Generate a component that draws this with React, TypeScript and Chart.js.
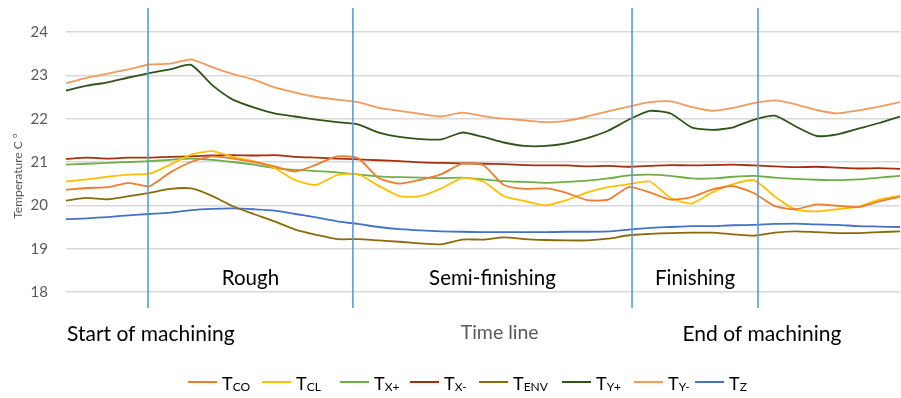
import React, { useEffect, useRef } from "react";
import { Chart, registerables } from "chart.js";

Chart.register(...registerables);

// Time line (relative %, 0 = start of machining, 100 = end of recording)
const time = [
  0, 2.5, 5, 7.5, 10, 12.5, 15, 17.5, 20, 22.5, 25, 27.5, 30, 32.5, 35, 37.5, 40, 42.5, 45, 47.5,
  50, 52.5, 55, 57.5, 60, 62.5, 65, 67.5, 70, 72.5, 75, 77.5, 80, 82.5, 85, 87.5, 90, 92.5, 95, 97.5, 100,
];

const tCO = [
  20.36, 20.4, 20.42, 20.52, 20.44, 20.76, 21.0, 21.13, 21.08, 21.0,
  20.9, 20.78, 20.94, 21.13, 21.09, 20.63, 20.5, 20.59, 20.72, 20.96,
  20.93, 20.47, 20.38, 20.39, 20.29, 20.12, 20.13, 20.42, 20.3, 20.13,
  20.19, 20.37, 20.44, 20.28, 19.98, 19.91, 20.02, 19.99, 19.96, 20.09, 20.2,
];
const tCL = [
  20.55, 20.6, 20.66, 20.71, 20.73, 20.94, 21.17, 21.25, 21.12, 21.02,
  20.86, 20.58, 20.47, 20.7, 20.72, 20.45, 20.21, 20.21, 20.39, 20.63,
  20.55, 20.21, 20.1, 20.0, 20.12, 20.3, 20.42, 20.49, 20.55, 20.17,
  20.04, 20.3, 20.49, 20.58, 20.2, 19.9, 19.86, 19.91, 19.97, 20.13, 20.22,
];
const tXplus = [
  20.94, 20.96, 20.98, 21.0, 21.02, 21.05, 21.08, 21.05, 21.0, 20.94,
  20.86, 20.82, 20.79, 20.76, 20.71, 20.67, 20.65, 20.64, 20.63, 20.64,
  20.6, 20.56, 20.54, 20.52, 20.54, 20.57, 20.62, 20.69, 20.71, 20.68,
  20.62, 20.62, 20.66, 20.68, 20.64, 20.61, 20.59, 20.58, 20.6, 20.64, 20.68,
];
const tXminus = [
  21.07, 21.1, 21.08, 21.1, 21.1, 21.12, 21.13, 21.15, 21.16, 21.15,
  21.16, 21.12, 21.1, 21.08, 21.06, 21.04, 21.02, 20.99, 20.98, 20.97,
  20.96, 20.95, 20.93, 20.92, 20.92, 20.9, 20.91, 20.89, 20.91, 20.93,
  20.92, 20.93, 20.94, 20.92, 20.9, 20.88, 20.89, 20.87, 20.85, 20.86, 20.84,
];
const tENV = [
  20.11, 20.17, 20.14, 20.21, 20.29, 20.38, 20.39, 20.22, 19.98, 19.8,
  19.63, 19.44, 19.32, 19.22, 19.22, 19.19, 19.16, 19.12, 19.1, 19.21,
  19.21, 19.26, 19.22, 19.2, 19.19, 19.19, 19.23, 19.31, 19.34, 19.36,
  19.37, 19.37, 19.33, 19.3, 19.37, 19.4, 19.38, 19.36, 19.36, 19.38, 19.4,
];
const tYplus = [
  22.65, 22.76, 22.84, 22.95, 23.05, 23.14, 23.24, 22.78, 22.44, 22.26,
  22.12, 22.05, 21.98, 21.92, 21.87, 21.68, 21.58, 21.53, 21.52, 21.68,
  21.58, 21.45, 21.37, 21.37, 21.43, 21.55, 21.72, 21.98, 22.18, 22.12,
  21.8, 21.74, 21.8, 21.98, 22.07, 21.82, 21.6, 21.64, 21.77, 21.9, 22.05,
];
const tYminus = [
  22.82, 22.94, 23.04, 23.14, 23.25, 23.27, 23.37, 23.19, 23.03, 22.9,
  22.72, 22.6, 22.5, 22.44, 22.38, 22.25, 22.18, 22.11, 22.05, 22.14,
  22.06, 22.0, 21.96, 21.92, 21.95, 22.05, 22.17, 22.28, 22.38, 22.4,
  22.27, 22.18, 22.25, 22.36, 22.42, 22.33, 22.2, 22.12, 22.19, 22.28, 22.38,
];
const tZ = [
  19.68, 19.7, 19.73, 19.77, 19.8, 19.83, 19.89, 19.92, 19.93, 19.91,
  19.88, 19.8, 19.72, 19.63, 19.57, 19.5, 19.45, 19.42, 19.4, 19.39,
  19.38, 19.38, 19.38, 19.38, 19.39, 19.39, 19.4, 19.44, 19.48, 19.5,
  19.52, 19.52, 19.54, 19.55, 19.57, 19.58, 19.56, 19.55, 19.52, 19.51, 19.5,
];

const seriesSubscripts = ["CO", "CL", "X+", "X-", "ENV", "Y+", "Y-", "Z"];
const seriesValues = [tCO, tCL, tXplus, tXminus, tENV, tYplus, tYminus, tZ];
const seriesColors = ["#ED7D31", "#FFC000", "#70AD47", "#A3300F", "#8C6A08", "#2F5419", "#F39A5C", "#4472C4"];

const yMin = 18;
const yMax = 24;
const yStep = 1;

const phaseBoundaries = [9.83, 34.4, 67.87, 82.97];
const phaseLabels = ["Rough", "Semi-finishing", "Finishing"];
const startLabel = "Start of machining";
const endLabel = "End of machining";
const axisLabel = "Time line";
const axisLabelAt = 52;
const yTitle = "Temperature C \u00B0";

const FONT = 'Lato, "Open Sans", "Liberation Sans", sans-serif';

const overlayPlugin = {
  id: "overlay",
  beforeDraw(chart: any) {
    const { ctx, width, height } = chart;
    ctx.save();
    ctx.fillStyle = "#ffffff";
    ctx.fillRect(0, 0, width, height);
    ctx.restore();
  },
  afterDraw(chart: any) {
    const { ctx, chartArea } = chart;
    const x = chart.scales.x;
    ctx.save();

    // phase separators
    ctx.strokeStyle = "#5B9BD5";
    ctx.lineWidth = 1.6;
    const bx = phaseBoundaries.map((b) => x.getPixelForValue(b));
    bx.forEach((px: number) => {
      ctx.beginPath();
      ctx.moveTo(px, chartArea.top - 24);
      ctx.lineTo(px, chartArea.bottom + 16);
      ctx.stroke();
    });

    // phase labels
    ctx.fillStyle = "#000000";
    ctx.textAlign = "center";
    ctx.textBaseline = "alphabetic";
    ctx.font = `20.5px ${FONT}`;
    phaseLabels.forEach((lab, i) => {
      const cx = (bx[i] + bx[i + 1]) / 2;
      ctx.fillText(lab, cx, chartArea.bottom - 7);
    });

    // bottom labels
    ctx.font = `21px ${FONT}`;
    ctx.textAlign = "left";
    ctx.fillText(startLabel, chartArea.left + 1, chartArea.bottom + 49);
    ctx.textAlign = "center";
    ctx.fillText(endLabel, bx[3] + 4, chartArea.bottom + 49);
    ctx.fillStyle = "#595959";
    ctx.font = `19.5px ${FONT}`;
    ctx.fillText(axisLabel, x.getPixelForValue(axisLabelAt), chartArea.bottom + 47);

    // y title
    ctx.save();
    ctx.translate(18, 176);
    ctx.rotate(-Math.PI / 2);
    ctx.fillStyle = "#595959";
    ctx.font = `12px ${FONT}`;
    ctx.textAlign = "center";
    ctx.textBaseline = "middle";
    ctx.fillText(yTitle, 0, 0);
    ctx.restore();

    // legend
    const starts = [188, 262, 340, 410, 479, 562, 634, 695];
    const ly = 382;
    chart.data.datasets.forEach((ds: any, i: number) => {
      const sx = starts[i];
      ctx.strokeStyle = ds.borderColor;
      ctx.lineWidth = 2;
      ctx.beginPath();
      ctx.moveTo(sx, ly);
      ctx.lineTo(sx + 29, ly);
      ctx.stroke();
      ctx.fillStyle = "#000000";
      ctx.textAlign = "left";
      ctx.textBaseline = "alphabetic";
      ctx.font = `18px ${FONT}`;
      const tx = sx + 34;
      ctx.fillText("T", tx, ly + 8);
      const tw = ctx.measureText("T").width;
      ctx.font = `12px ${FONT}`;
      ctx.fillText(seriesSubscripts[i], tx + tw, ly + 9);
    });

    ctx.restore();
  },
};

export default function App() {
  const canvasRef = useRef<HTMLCanvasElement | null>(null);

  useEffect(() => {
    if (!canvasRef.current) return;
    const datasets = seriesValues.map((vals, i) => ({
      label: "T" + seriesSubscripts[i],
      data: time.map((t, j) => ({ x: t, y: vals[j] })),
      borderColor: seriesColors[i],
      backgroundColor: seriesColors[i],
      borderWidth: 1.8,
      pointRadius: 0,
      tension: 0.2,
      fill: false,
    }));
    const chart = new Chart(canvasRef.current, {
      type: "line",
      data: { datasets },
      plugins: [overlayPlugin],
      options: {
        animation: false,
        responsive: false,
        maintainAspectRatio: false,
        layout: { padding: { top: 32, bottom: 106, left: 0, right: 1 } },
        plugins: { legend: { display: false }, tooltip: { enabled: false } },
        scales: {
          x: { type: "linear", min: 0, max: 100, display: false },
          y: {
            min: yMin,
            max: yMax,
            afterFit: (scale: any) => {
              scale.width = 66;
            },
            ticks: {
              stepSize: yStep,
              color: "#595959",
              padding: 18,
              font: { family: FONT, size: 15 },
            },
            border: { display: false },
            grid: { color: "#D9D9D9", lineWidth: 1.5, drawTicks: false },
          },
        },
      },
    });
    return () => chart.destroy();
  }, []);

  return (
    <div style={{ position: "absolute", left: 0, top: 0, width: 901, height: 398 }}>
      <canvas ref={canvasRef} width={901} height={398} style={{ width: 901, height: 398 }} />
    </div>
  );
}
